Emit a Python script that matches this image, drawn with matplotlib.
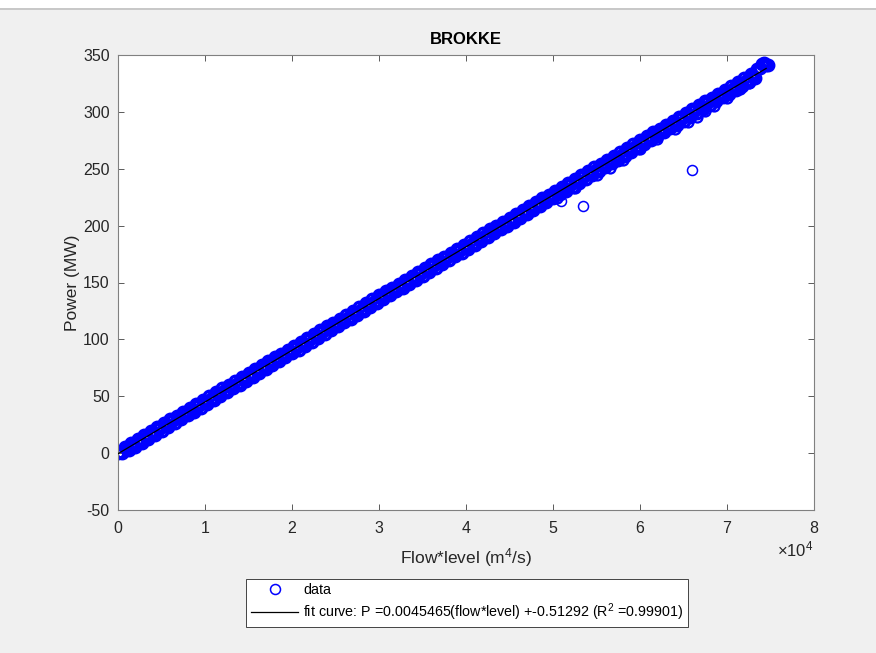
import matplotlib.pyplot as plt
from matplotlib.patches import Rectangle
from matplotlib.ticker import FuncFormatter

plt.rcParams['font.family'] = ['Liberation Sans', 'DejaVu Sans']
plt.rcParams['mathtext.fontset'] = 'custom'
plt.rcParams['mathtext.rm'] = 'Liberation Sans'
plt.rcParams['mathtext.it'] = 'Liberation Sans:italic'
plt.rcParams['mathtext.bf'] = 'Liberation Sans:bold'
plt.rcParams['axes.unicode_minus'] = False

# main band of measurements (flow*level in m^4/s, power in MW)
flow = [
    0, 250, 500, 750, 1000, 1250, 1500, 1750, 2000, 2250,
    2500, 2750, 3000, 3250, 3500, 3750, 4000, 4250, 4500, 4750,
    5000, 5250, 5500, 5750, 6000, 6250, 6500, 6750, 7000, 7250,
    7500, 7750, 8000, 8250, 8500, 8750, 9000, 9250, 9500, 9750,
    10000, 10250, 10500, 10750, 11000, 11250, 11500, 11750, 12000, 12250,
    12500, 12750, 13000, 13250, 13500, 13750, 14000, 14250, 14500, 14750,
    15000, 15250, 15500, 15750, 16000, 16250, 16500, 16750, 17000, 17250,
    17500, 17750, 18000, 18250, 18500, 18750, 19000, 19250, 19500, 19750,
    20000, 20250, 20500, 20750, 21000, 21250, 21500, 21750, 22000, 22250,
    22500, 22750, 23000, 23250, 23500, 23750, 24000, 24250, 24500, 24750,
    25000, 25250, 25500, 25750, 26000, 26250, 26500, 26750, 27000, 27250,
    27500, 27750, 28000, 28250, 28500, 28750, 29000, 29250, 29500, 29750,
    30000, 30250, 30500, 30750, 31000, 31250, 31500, 31750, 32000, 32250,
    32500, 32750, 33000, 33250, 33500, 33750, 34000, 34250, 34500, 34750,
    35000, 35250, 35500, 35750, 36000, 36250, 36500, 36750, 37000, 37250,
    37500, 37750, 38000, 38250, 38500, 38750, 39000, 39250, 39500, 39750,
    40000, 40250, 40500, 40750, 41000, 41250, 41500, 41750, 42000, 42250,
    42500, 42750, 43000, 43250, 43500, 43750, 44000, 44250, 44500, 44750,
    45000, 45250, 45500, 45750, 46000, 46250, 46500, 46750, 47000, 47250,
    47500, 47750, 48000, 48250, 48500, 48750, 49000, 49250, 49500, 49750,
    50000, 50250, 50500, 50750, 51000, 51250, 51500, 51750, 52000, 52250,
    52500, 52750, 53000, 53250, 53500, 53750, 54000, 54250, 54500, 54750,
    55000, 55250, 55500, 55750, 56000, 56250, 56500, 56750, 57000, 57250,
    57500, 57750, 58000, 58250, 58500, 58750, 59000, 59250, 59500, 59750,
    60000, 60250, 60500, 60750, 61000, 61250, 61500, 61750, 62000, 62250,
    62500, 62750, 63000, 63250, 63500, 63750, 64000, 64250, 64500, 64750,
    65000, 65250, 65500, 65750, 66000, 66250, 66500, 66750, 67000, 67250,
    67500, 67750, 68000, 68250, 68500, 68750, 69000, 69250, 69500, 69750,
    70000, 70250, 70500, 70750, 71000, 71250, 71500, 71750, 72000, 72250,
    72500, 72750, 73000, 73250, 73500, 73750, 74000, 74250, 74500, 74750,
]
power = [
    0.3, 0.6, 0.2, 5.7, 4.0, 2.4, 9.1, 7.4, 5.8, 12.5,
    10.9, 9.2, 15.9, 14.3, 12.6, 19.3, 17.7, 16.0, 22.7, 21.1,
    19.4, 26.2, 24.5, 22.8, 29.6, 27.9, 26.2, 33.0, 31.3, 29.6,
    36.4, 34.7, 33.1, 39.8, 38.1, 36.5, 43.2, 41.5, 39.9, 46.6,
    45.0, 43.3, 50.0, 48.4, 46.7, 53.4, 51.8, 50.1, 56.9, 55.2,
    53.5, 60.3, 58.6, 56.9, 63.7, 62.0, 60.3, 67.1, 65.4, 63.8,
    70.5, 68.8, 67.2, 73.9, 72.2, 70.6, 77.3, 75.6, 74.0, 80.7,
    79.1, 77.4, 84.1, 82.5, 80.8, 87.5, 85.9, 84.2, 90.9, 89.3,
    87.6, 94.4, 92.7, 91.0, 97.8, 96.1, 94.4, 101.2, 99.5, 97.9,
    104.6, 102.9, 101.3, 108.0, 106.3, 104.7, 111.4, 109.7, 108.1, 114.8,
    113.2, 111.5, 118.2, 116.6, 114.9, 121.6, 120.0, 118.3, 125.0, 123.4,
    121.7, 128.5, 126.8, 125.1, 131.9, 130.2, 128.5, 135.3, 133.6, 131.9,
    138.7, 137.0, 135.4, 142.1, 140.4, 138.8, 145.5, 143.8, 142.2, 148.9,
    147.3, 145.6, 152.3, 150.7, 149.0, 155.7, 154.1, 152.4, 159.1, 157.5,
    155.8, 162.6, 160.9, 159.2, 166.0, 164.3, 162.6, 169.4, 167.7, 166.0,
    172.8, 171.1, 169.5, 176.2, 174.5, 172.9, 179.6, 177.9, 176.3, 183.0,
    181.4, 179.7, 186.4, 184.8, 183.1, 189.8, 188.2, 186.5, 193.2, 191.6,
    189.9, 196.7, 195.0, 193.3, 200.1, 198.4, 196.7, 203.5, 201.8, 200.1,
    206.9, 205.2, 203.6, 210.3, 208.6, 207.0, 213.7, 212.0, 210.4, 217.1,
    215.5, 213.8, 220.5, 218.9, 217.2, 223.9, 222.3, 220.6, 227.3, 225.7,
    224.0, 230.8, 229.1, 227.4, 234.2, 232.5, 230.8, 237.6, 235.9, 234.2,
    241.0, 239.3, 237.7, 244.4, 242.7, 241.1, 247.8, 246.1, 244.5, 251.2,
    249.5, 247.9, 254.6, 253.0, 251.3, 258.0, 256.4, 254.7, 261.4, 259.8,
    258.1, 264.9, 263.2, 261.5, 268.3, 266.6, 264.9, 271.7, 270.0, 268.3,
    275.1, 273.4, 271.8, 278.5, 276.8, 275.2, 281.9, 280.2, 278.6, 285.3,
    283.6, 282.0, 288.7, 287.1, 285.4, 292.1, 290.5, 288.8, 295.5, 293.9,
    292.2, 299.0, 297.3, 295.6, 302.4, 300.7, 299.0, 305.8, 304.1, 302.4,
    309.2, 307.5, 305.9, 312.6, 310.9, 309.3, 316.0, 314.3, 312.7, 319.4,
    317.7, 316.1, 322.8, 321.2, 319.5, 326.2, 324.6, 322.9, 329.6, 328.0,
    326.3, 333.0, 331.4, 329.7, 337.5, 339.0, 342.0, 342.8, 341.5, 340.8,
]

# points scattered below the line in the upper range
flow_low = [50500, 52500, 55000, 56500, 58000, 60000, 62000, 64000,
            65500, 66500, 67500, 68500, 70000, 71500, 72500]
power_low = [224.1, 233.0, 244.5, 251.0, 257.8, 267.0, 276.0, 285.0,
             291.5, 295.8, 300.5, 305.5, 312.5, 319.8, 325.0]

# isolated outliers
flow_out = [50900, 53400, 66000]
power_out = [222.0, 217.5, 249.0]

# fit curve: P = slope*(flow*level) + intercept
slope = 0.0045465
intercept = -0.51292
r2 = 0.99901
fit_range = [0, 74500]

fig = plt.figure(figsize=(8.76, 6.53), dpi=100, facecolor='#f0f0f0')

# window strip on top
fig.patches.append(Rectangle((0, 1 - 8 / 653), 1, 8 / 653, transform=fig.transFigure,
                             facecolor='white', edgecolor='none', zorder=-1))
fig.patches.append(Rectangle((0, 1 - 10 / 653), 1, 2 / 653, transform=fig.transFigure,
                             facecolor='#c8c8c8', edgecolor='none', zorder=-1))

ax = fig.add_axes([118 / 876, 143 / 653, 696 / 876, 455 / 653])
ax.set_facecolor('white')

mk = dict(ls='none', marker='o', mfc='none', mec='blue', ms=7.2, mew=1.1)
ax.plot(flow, power, label='data', ls='none', marker='o', mfc='none',
        mec='blue', ms=7.6, mew=2.4)
ax.plot(flow_low, power_low, ls='none', marker='o', mfc='none',
        mec='blue', ms=7.2, mew=1.6)
ax.plot(flow_out, power_out, **mk)

fit_p = [slope * x + intercept for x in fit_range]
ax.plot(fit_range, fit_p, color='black', lw=0.9, zorder=3,
        label='fit curve: P =%g(flow*level) +%g (R$^2$ =%g)' % (slope, intercept, r2))

ax.set_xlim(0, 80000)
ax.set_ylim(-50, 350)
ax.set_xticks(range(0, 80001, 10000))
ax.set_yticks(range(-50, 351, 50))
ax.xaxis.set_major_formatter(FuncFormatter(lambda v, p: '%g' % (v / 1e4)))

for s in ax.spines.values():
    s.set_color('#808080')
    s.set_linewidth(0.8)
ax.tick_params(direction='in', top=True, right=True, length=4, width=0.6,
               color='#404040', labelcolor='#262626', labelsize=11.5)
ax.tick_params(axis='x', pad=8)
ax.tick_params(axis='y', pad=6)

ax.set_title('BROKKE', fontsize=12, fontweight='bold', color='black', pad=8)
ax.set_xlabel('Flow*level (m$^4$/s)', fontsize=12.5, color='#262626', labelpad=7)
ax.set_ylabel('Power (MW)', fontsize=12.5, color='#262626', labelpad=2)

fig.text(813 / 876, 1 - 549 / 653, '×10$^4$', ha='right', va='center',
         fontsize=12, color='#262626')

leg = fig.legend(loc='upper center', bbox_to_anchor=(467 / 876, 1 - 579 / 653),
                 fontsize=10.3, handlelength=3.35, handletextpad=0.35,
                 labelspacing=0.3, borderpad=0.3, borderaxespad=0,
                 fancybox=False, framealpha=1, facecolor='white',
                 edgecolor='#262626')
leg.get_frame().set_linewidth(0.6)
leg.legend_handles[0].set_markeredgewidth(1.1)
leg.legend_handles[0].set_markersize(7.2)

fig.savefig('out.png', dpi=100, facecolor=fig.get_facecolor())
